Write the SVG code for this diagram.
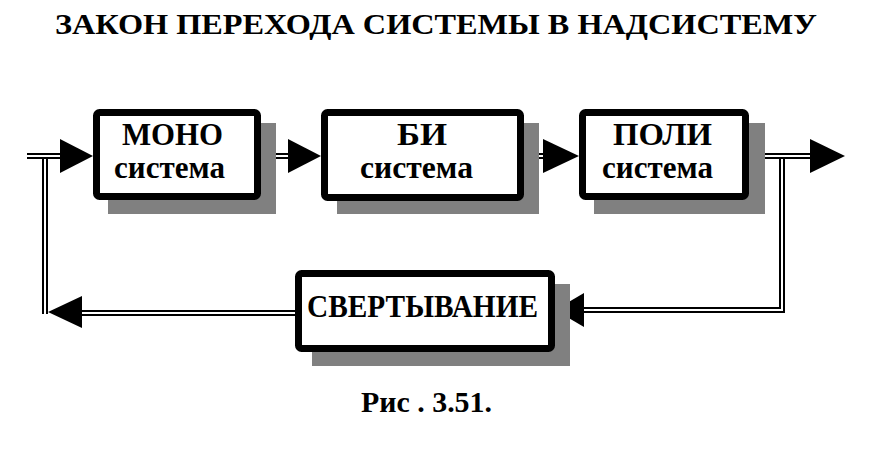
<svg xmlns="http://www.w3.org/2000/svg" width="886" height="449" viewBox="0 0 886 449">
<style>
text{font-family:"Liberation Serif","Times New Roman",serif;font-weight:bold;fill:#000}
.t{font-size:29px}
.b{font-size:31px;text-anchor:middle}
.s{font-size:31px}
.sh{fill:#808080}
.box{fill:#fff;stroke:#000;stroke-width:7}
.lo{fill:none;stroke:#000;stroke-width:6}
.li{fill:none;stroke:#fff;stroke-width:2}
.arr{fill:#000}
</style>
<rect width="886" height="449" fill="#fff"/>
<text class="t" x="55" y="34" textLength="762" lengthAdjust="spacingAndGlyphs">ЗАКОН ПЕРЕХОДА СИСТЕМЫ В НАДСИСТЕМУ</text>
<g id="connectors">
<path class="lo" d="M45 158 V314"/><path class="li" d="M45 158 V314"/>
<path class="lo" d="M27 156 H61"/><path class="li" d="M27 156 H61"/>
<path class="lo" d="M80 313 H297"/><path class="li" d="M80 313 H297"/>
<path class="lo" d="M260 156 H290"/><path class="li" d="M260 156 H290"/>
<path class="lo" d="M523 156 H545"/><path class="li" d="M523 156 H545"/>
<path class="lo" d="M782 158 V310 H582"/><path class="li" d="M782 158 V310 H582"/>
<path class="lo" d="M748 156 H812"/><path class="li" d="M748 156 H812"/>
<polygon class="arr" points="60,139 93,156 60,173"/>
<polygon class="arr" points="288,139 321,156 288,173"/>
<polygon class="arr" points="543,139 579,156 543,173"/>
<polygon class="arr" points="810,139 845,156 810,173"/>
<polygon class="arr" points="584,293 555,310 584,327"/>
<polygon class="arr" points="82,296 48,312 82,328"/>
</g>
<g id="mono">
<rect class="sh" x="108" y="123" width="168" height="91"/>
<rect class="box" x="96.5" y="112.5" width="161" height="84" rx="3"/>
<text class="b" x="172.5" y="145" textLength="101" lengthAdjust="spacingAndGlyphs">МОНО</text>
<text class="b s" x="169.5" y="178" textLength="111" lengthAdjust="spacingAndGlyphs">система</text>
</g>
<g id="bi">
<rect class="sh" x="337" y="123" width="202" height="91"/>
<rect class="box" x="324.5" y="112.5" width="196" height="85" rx="3"/>
<text class="b" x="422" y="145" textLength="50" lengthAdjust="spacingAndGlyphs">БИ</text>
<text class="b s" x="416.5" y="178" textLength="113" lengthAdjust="spacingAndGlyphs">система</text>
</g>
<g id="poli">
<rect class="sh" x="594" y="123" width="171" height="91"/>
<rect class="box" x="582.5" y="112.5" width="163" height="84" rx="3"/>
<text class="b" x="662.5" y="145" textLength="99" lengthAdjust="spacingAndGlyphs">ПОЛИ</text>
<text class="b s" x="657.5" y="178" textLength="111" lengthAdjust="spacingAndGlyphs">система</text>
</g>
<g id="svert">
<rect class="sh" x="312" y="284" width="258" height="82"/>
<rect class="box" x="298.5" y="273.5" width="253" height="75" rx="3"/>
<text class="b" x="422.5" y="317" font-size="30" textLength="231" lengthAdjust="spacingAndGlyphs">СВЕРТЫВАНИЕ</text>
</g>
<text class="t" x="361" y="412" font-size="30" textLength="131" lengthAdjust="spacingAndGlyphs">Рис . 3.51.</text>
</svg>
